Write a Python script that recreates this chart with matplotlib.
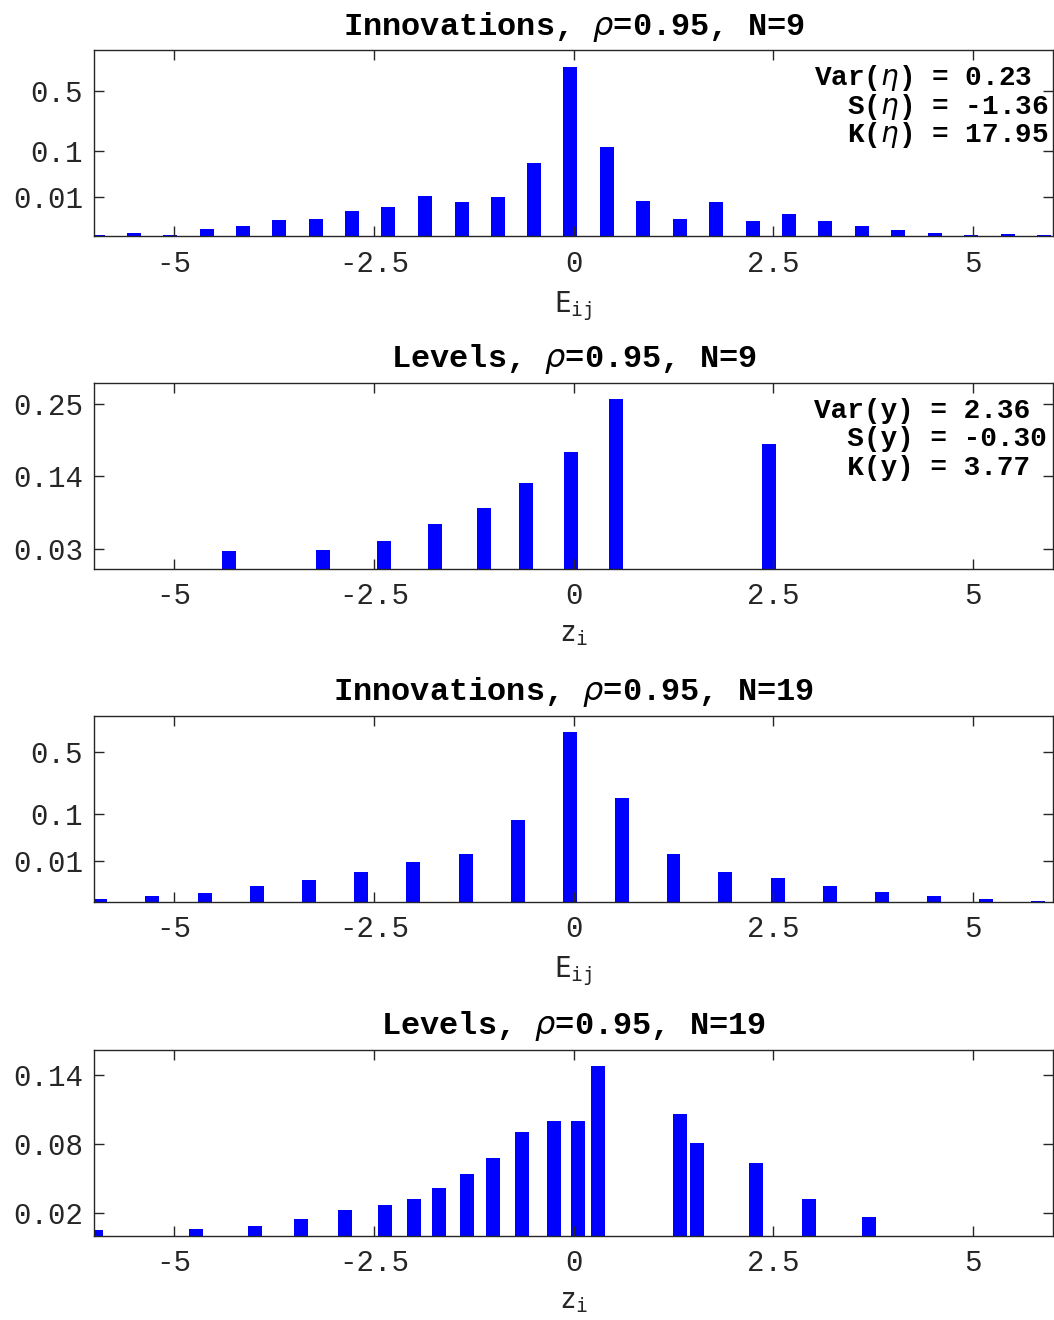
import matplotlib.pyplot as plt
import numpy as np

plt.rcParams['font.family'] = ['Liberation Mono', 'DejaVu Sans Mono']
plt.rcParams['mathtext.fontset'] = 'dejavusans'
plt.rcParams['axes.unicode_minus'] = False

# Innovations, N=9 (bin centres and frequencies)
inn9_x = [-5.95, -5.50, -5.05, -4.59, -4.13, -3.68, -3.22, -2.77, -2.32, -1.86,
          -1.40, -0.95, -0.50, -0.04, 0.42, 0.87, 1.33, 1.78, 2.24, 2.70,
          3.15, 3.61, 4.06, 4.52, 4.97, 5.43, 5.88]
inn9_p = [5e-8, 3.1e-6, 5e-8, 5.6e-5, 1.6e-4, 6.7e-4, 8.5e-4, 2.65e-3, 3.84e-3, 1.02e-2,
          6.6e-3, 9.9e-3, 0.064, 0.786, 0.115, 7.0e-3, 8.0e-4, 6.4e-3, 5.5e-4, 1.66e-3,
          5.5e-4, 1.63e-4, 3.5e-5, 6.0e-6, 5e-8, 7.5e-7, 5e-8]

# Levels, N=9
lev9_x = [-4.31, -3.13, -2.37, -1.74, -1.12, -0.59, -0.03, 0.53, 2.44]
lev9_p = [0.0265, 0.0275, 0.0423, 0.0677, 0.0922, 0.1299, 0.1772, 0.2567, 0.1889]

# Innovations, N=19
inn19_x = [-5.92, -5.27, -4.61, -3.96, -3.31, -2.66, -2.01, -1.35, -0.70, -0.05,
           0.60, 1.25, 1.90, 2.56, 3.21, 3.86, 4.51, 5.16, 5.81]
inn19_p = [1.9e-6, 2.8e-5, 9.9e-5, 5.1e-4, 1.48e-3, 3.97e-3, 9.5e-3, 0.0158, 0.0808, 0.717,
           0.163, 0.0161, 3.97e-3, 2.02e-3, 5.85e-4, 1.37e-4, 2.3e-5, 1.9e-6, 5e-8]

# Levels, N=19
lev19_x = [-5.98, -4.73, -3.98, -3.41, -2.86, -2.36, -2.00, -1.69, -1.33, -1.01,
           -0.64, -0.24, 0.05, 0.30, 1.33, 1.54, 2.28, 2.95, 3.69]
lev19_p = [0.0047, 0.0055, 0.0084, 0.0142, 0.0221, 0.0264, 0.0314, 0.0418, 0.0532, 0.0677,
           0.0898, 0.0999, 0.1002, 0.1473, 0.1063, 0.0808, 0.0630, 0.0320, 0.0157]

xticks = [-5, -2.5, 0, 2.5, 5]
xticklabels = ['-5', '-2.5', '0', '2.5', '5']
yt_inn = [0.01, 0.1, 0.5]
yt_lev9 = [0.03, 0.14, 0.25]
yt_lev19 = [0.02, 0.08, 0.14]

stats_inn = ['Var($\\eta$) = 0.23', '  S($\\eta$) = -1.36', '  K($\\eta$) = 17.95']
stats_lev = ['Var(y) = 2.36', '  S(y) = -0.30', '  K(y) = 3.77']

dark = '#262626'

fig = plt.figure(figsize=(10.54, 13.2), dpi=100)

bottoms = [0.8212, 0.5693, 0.3170, 0.0640]
paineis = [
    (inn9_x, inn9_p, r'Innovations, $\rho$=0.95, N=9', r'$\mathtt{E_{ij}}$', True, yt_inn, stats_inn),
    (lev9_x, lev9_p, r'Levels, $\rho$=0.95, N=9', r'$\mathtt{z_{i}}$', False, yt_lev9, stats_lev),
    (inn19_x, inn19_p, r'Innovations, $\rho$=0.95, N=19', r'$\mathtt{E_{ij}}$', True, yt_inn, None),
    (lev19_x, lev19_p, r'Levels, $\rho$=0.95, N=19', r'$\mathtt{z_{i}}$', False, yt_lev19, None),
]

for b, (x, p, titulo, xlab, cubica, yt, stats) in zip(bottoms, paineis):
    ax = fig.add_axes([0.0892, b, 0.91, 0.1409])
    if cubica:
        # eixo y em escala de raiz cúbica
        ax.set_yscale('function', functions=(np.cbrt, lambda v: v ** 3))
        ax.set_ylim(0, 1.331 * max(p))
    else:
        ax.set_ylim(0, 1.1 * max(p))
    ax.bar(x, p, width=0.175, color='#0000ff', edgecolor='none')
    ax.set_xlim(-6, 6)
    ax.set_xticks(xticks)
    ax.set_xticklabels(xticklabels)
    ax.set_yticks(yt)
    ax.set_yticklabels([f'{v:g}' for v in yt])
    ax.yaxis.set_minor_locator(plt.NullLocator())
    ax.tick_params(direction='in', top=True, right=True, length=7, width=1,
                   color=dark, labelcolor=dark, labelsize=21)
    ax.tick_params(axis='x', pad=10)
    ax.tick_params(axis='y', pad=8)
    for s in ax.spines.values():
        s.set_color(dark)
        s.set_linewidth(1)
    ax.set_title(titulo, fontsize=23, fontweight='bold', pad=11)
    ax.set_xlabel(xlab, fontsize=20, color=dark, labelpad=8)
    if stats:
        for i, linha in enumerate(stats):
            ax.text(0.751, 0.81 - i * 0.153, linha, transform=ax.transAxes,
                    fontsize=20, fontweight='bold', ha='left', va='baseline')

plt.savefig('out.png', dpi=100)
